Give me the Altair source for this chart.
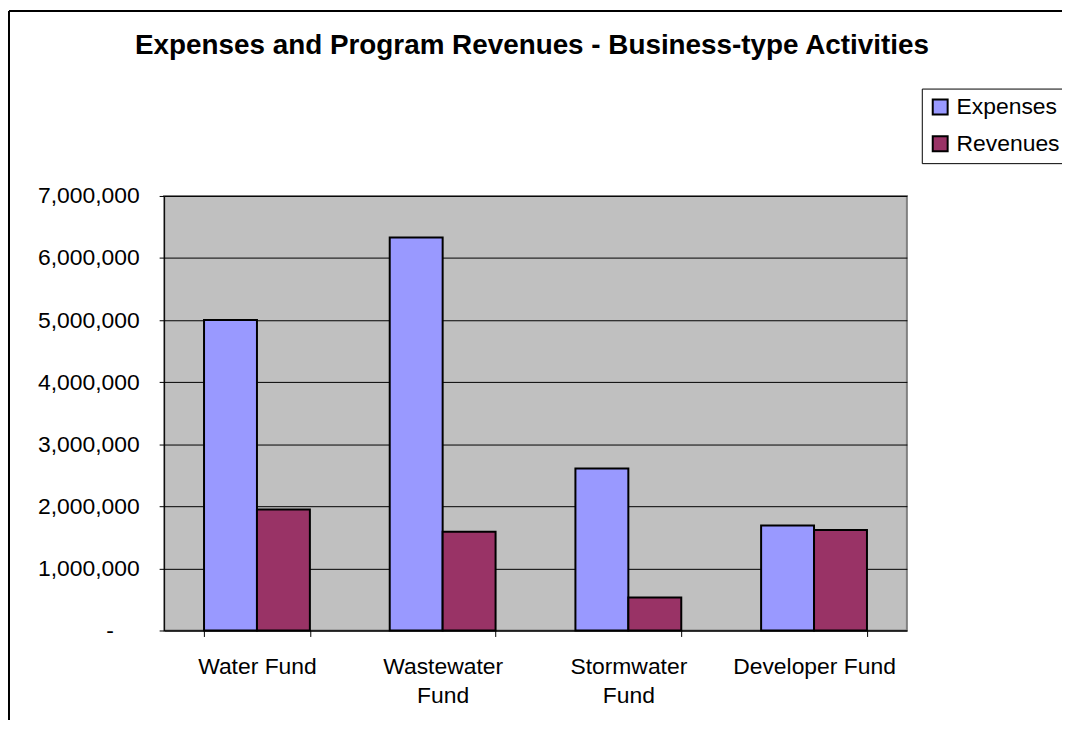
import altair as alt
import pandas as pd

categories = ["Water Fund", "Wastewater|Fund", "Stormwater|Fund", "Developer Fund"]
series = ["Expenses", "Revenues"]
expenses = [5000000, 6330000, 2610000, 1690000]
revenues = [1950000, 1590000, 530000, 1620000]
colors = ["#9999FF", "#993366"]
y_ticks = [0, 1000000, 2000000, 3000000, 4000000, 5000000, 6000000, 7000000]
title_text = "Expenses and Program Revenues - Business-type Activities"

rows = []
for c, e, r in zip(categories, expenses, revenues):
    rows.append({"cat": c, "series": "Expenses", "value": e})
    rows.append({"cat": c, "series": "Revenues", "value": r})
df = pd.DataFrame(rows)

FONT = "Liberation Sans"
W, H = 747, 437
PL, PT = 157, 187
TOTW, TOTH = 1060, 714

bars = alt.Chart(df).mark_bar(stroke="black", strokeWidth=2).encode(
    x=alt.X("cat:N", sort=categories,
            scale=alt.Scale(paddingInner=0.43, paddingOuter=0.215),
            axis=alt.Axis(title=None, labelAngle=0,
                          labelExpr="split(datum.label, '|')",
                          tickBand="extent", tickSize=6, tickColor="black",
                          domainColor="black", domainWidth=1,
                          labelFont=FONT, labelFontSize=23, labelColor="black",
                          labelPadding=19, labelLineHeight=29, grid=False)),
    xOffset=alt.XOffset("series:N", sort=series,
                        scale=alt.Scale(paddingInner=0, paddingOuter=0)),
    y=alt.Y("value:Q", scale=alt.Scale(domain=[0, 7000000]),
            axis=alt.Axis(title=None, values=y_ticks,
                          labelExpr="datum.value == 0 ? '-' : format(datum.value, ',')",
                          tickSize=5, tickColor="black", domainColor="black",
                          gridColor="black", gridWidth=1,
                          labelFont=FONT, labelFontSize=23, labelColor="black",
                          labelPadding={"expr": "datum.value == 0 ? 46 : 20"})),
    color=alt.Color("series:N", sort=series,
                    scale=alt.Scale(domain=series, range=colors),
                    legend=alt.Legend(title=None, orient="none",
                                      legendX=762, legendY=-108,
                                      strokeColor="black", fillColor="white",
                                      padding=7, symbolType="square",
                                      symbolSize=225, symbolStrokeColor="black",
                                      symbolStrokeWidth=2, symbolOpacity=1,
                                      labelFont=FONT, labelFontSize=23,
                                      labelColor="black", labelOffset=5,
                                      rowPadding=13)),
)

dummy = alt.Data(values=[{"title": title_text}])
border_left = alt.Chart(dummy).mark_rule(color="black", strokeWidth=2).encode(
    x=alt.value(-PL + 1), y=alt.value(-PT + 1), y2=alt.value(TOTH - PT))
border_top = alt.Chart(dummy).mark_rule(color="black", strokeWidth=2).encode(
    x=alt.value(-PL + 1), x2=alt.value(TOTW - PL), y=alt.value(-PT + 1))
title = alt.Chart(dummy).mark_text(
    font=FONT, fontSize=28, fontWeight="bold", color="black",
    align="center", baseline="middle"
).encode(x=alt.value(370), y=alt.value(-151), text="title:N")

chart = alt.layer(bars, border_left, border_top, title).properties(
    width=W, height=H,
    background="white",
    autosize=alt.AutoSizeParams(type="none"),
    padding={"left": PL, "top": PT, "right": TOTW - PL - W, "bottom": TOTH - PT - H},
).configure_view(
    fill="#C0C0C0", stroke="#808080", strokeWidth=2
)

chart.save("out.html", embed_options={"renderer": "svg", "actions": False})
